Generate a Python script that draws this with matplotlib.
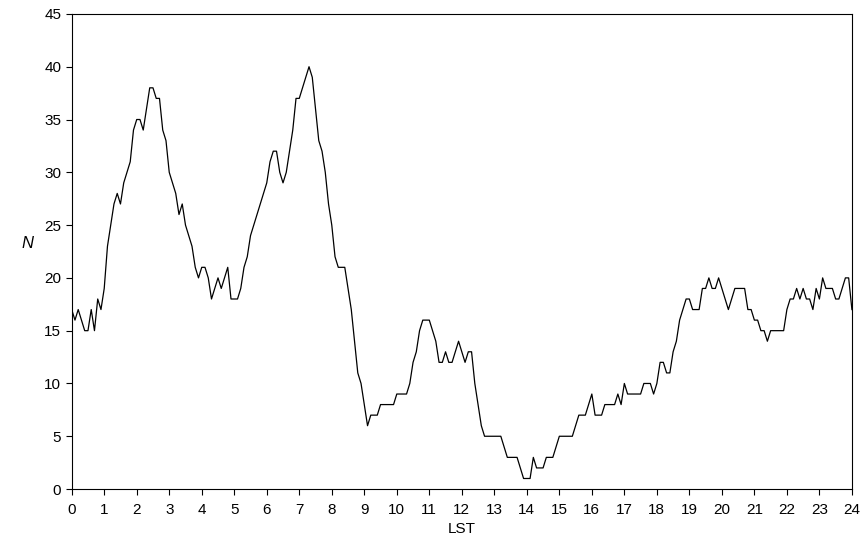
import numpy as np
import matplotlib.pyplot as plt

plt.rcParams['font.family'] = ['Liberation Sans', 'DejaVu Sans']

# counts every 0.1 h, one row per hour (11 values, shared endpoints)
hourly = [
    [17, 16, 17, 16, 15, 15, 17, 15, 18, 17, 19],
    [19, 23, 25, 27, 28, 27, 29, 30, 31, 34, 35],
    [35, 35, 34, 36, 38, 38, 37, 37, 34, 33, 33],
    [30, 29, 28, 26, 27, 25, 24, 23, 21, 20, 21],
    [21, 21, 20, 18, 19, 20, 19, 20, 21, 18, 18],
    [18, 18, 19, 21, 22, 24, 25, 26, 27, 28, 29],
    [29, 31, 32, 32, 30, 29, 30, 32, 34, 37, 37],
    [37, 38, 39, 40, 39, 36, 33, 32, 30, 27, 25],
    [25, 22, 21, 21, 21, 19, 17, 14, 11, 10, 9],
    [8, 6, 7, 7, 7, 8, 8, 8, 8, 8, 8],
    [9, 9, 9, 9, 10, 12, 13, 15, 16, 16, 16],
    [16, 15, 14, 12, 12, 13, 12, 12, 13, 14, 13],
    [13, 12, 13, 13, 10, 8, 6, 5, 5, 5, 5],
    [5, 5, 5, 4, 3, 3, 3, 3, 2, 1, 1],
    [1, 1, 3, 2, 2, 2, 3, 3, 3, 4, 5],
    [5, 5, 5, 5, 5, 6, 7, 7, 7, 8, 9],
    [9, 7, 7, 7, 8, 8, 8, 8, 9, 8, 10],
    [10, 9, 9, 9, 9, 9, 10, 10, 10, 9, 10],
    [10, 12, 12, 11, 11, 13, 14, 16, 17, 18, 18],
    [18, 17, 17, 17, 19, 19, 20, 19, 19, 20, 19],
    [19, 18, 17, 18, 19, 19, 19, 19, 17, 17, 16],
    [16, 16, 15, 15, 14, 15, 15, 15, 15, 15, 17],
    [17, 18, 18, 19, 18, 19, 18, 18, 17, 19, 18],
    [18, 20, 19, 19, 19, 18, 18, 19, 20, 20, 17],
]

n = [v for row in hourly for v in row[:-1]] + [hourly[-1][-1]]
lst = np.arange(len(n)) * 0.1

fig = plt.figure(figsize=(8.64, 5.57), dpi=100)
ax = fig.add_axes([0.083, 0.122, 0.903, 0.853])
ax.plot(lst, n, color='black', linewidth=0.9)
ax.set_xlim(0, 24)
ax.set_ylim(0, 45)
ax.set_xticks(range(0, 25))
ax.set_yticks(range(0, 46, 5))
ax.tick_params(direction='out', labelsize=11, length=4)
ax.tick_params(axis='x', pad=6)
ax.set_xlabel('LST', fontsize=11)
ax.set_ylabel('N', fontsize=12, style='italic', rotation=0, labelpad=12)
fig.savefig('out.png', dpi=100)
